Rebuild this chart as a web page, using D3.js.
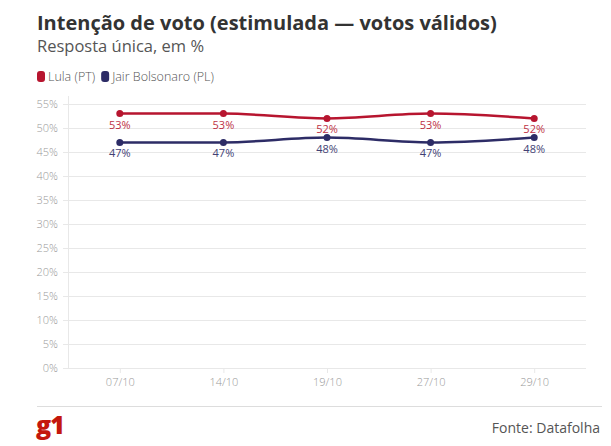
<!DOCTYPE html>
<html><head><meta charset="utf-8">
<script src="https://cdn.jsdelivr.net/npm/d3@7"></script>
<style>
body{margin:0;background:#fff;font-family:"Open Sans",sans-serif;}
</style></head>
<body><svg id="c" width="611" height="446"></svg>
<script>
const dates = ["07/10","14/10","19/10","27/10","29/10"];
const lula = [53,53,52,53,52];
const bolsonaro = [47,47,48,47,48];
const yTicks = [0,5,10,15,20,25,30,35,40,45,50,55];
const seriesNames = ["Lula (PT)","Jair Bolsonaro (PL)"];
const seriesColors = ["#b7152f","#2d2c66"];

const svg = d3.select("#c");
const x = d3.scalePoint().domain(dates).range([68,586]).padding(0.5);
const y = d3.scaleLinear().domain([0,55]).range([368,104]);

svg.append("text").attr("x",37).attr("y",30).attr("font-size",20).attr("font-weight",700)
  .attr("fill","#333").text("Intenção de voto (estimulada — votos válidos)");
svg.append("text").attr("x",37).attr("y",52).attr("font-size",16.5).attr("fill","#555")
  .text("Resposta única, em %");

// legend
let lx = 37;
seriesNames.forEach((n,i)=>{
  svg.append("rect").attr("x",lx).attr("y",71).attr("width",8).attr("height",11).attr("rx",3)
    .attr("fill",seriesColors[i]);
  const t = svg.append("text").attr("x",lx+11).attr("y",81).attr("font-size",12.5)
    .attr("font-weight",300).attr("fill","#555").text(n);
  lx += 11 + t.node().getComputedTextLength() + 6;
});

// grid
const yAxis = d3.axisLeft(y).tickValues(yTicks).tickFormat(d=>d+"%").tickSize(0).tickPadding(10);
const gy = svg.append("g").attr("transform","translate(68,0)").call(yAxis);
gy.select(".domain").remove();
gy.selectAll("text").attr("font-size",11).attr("fill","#999").attr("font-family","Open Sans").attr("font-weight",300);
svg.append("g").selectAll("line").data(yTicks).join("line")
  .attr("x1",63).attr("x2",586).attr("y1",d=>y(d)).attr("y2",d=>y(d))
  .attr("stroke","#e8e8e8").attr("stroke-width",1).attr("shape-rendering","crispEdges");
svg.append("line").attr("x1",68).attr("x2",68).attr("y1",96).attr("y2",368)
  .attr("stroke","#e8e8e8").attr("shape-rendering","crispEdges");

const xAxis = d3.axisBottom(x).tickSize(5).tickPadding(5);
const gx = svg.append("g").attr("transform","translate(0,368)").call(xAxis);
gx.select(".domain").remove();
gx.selectAll("line").attr("stroke","#e8e8e8");
gx.selectAll("text").attr("font-size",11).attr("fill","#999").attr("font-family","Open Sans").attr("font-weight",300);

// lines
const line = d3.line().x((d,i)=>x(dates[i])).y(d=>y(d)).curve(d3.curveMonotoneX);
[lula,bolsonaro].forEach((s,k)=>{
  svg.append("path").attr("d",line(s)).attr("fill","none").attr("stroke",seriesColors[k]).attr("stroke-width",2.5);
  svg.append("g").selectAll("circle").data(s).join("circle")
    .attr("cx",(d,i)=>x(dates[i])).attr("cy",d=>y(d)).attr("r",3.5).attr("fill",seriesColors[k]);
  svg.append("g").selectAll("text").data(s).join("text")
    .attr("x",(d,i)=>x(dates[i])).attr("y",d=>y(d)+15).attr("text-anchor","middle")
    .attr("font-size",11).attr("fill",seriesColors[k]).attr("opacity",0.9).text(d=>d+"%");
});

// footer
svg.append("line").attr("x1",37).attr("x2",602).attr("y1",406).attr("y2",406)
  .attr("stroke","#ddd").attr("shape-rendering","crispEdges");
svg.append("text").attr("x",36).attr("y",434).attr("font-size",25).attr("font-weight",800)
  .attr("fill","#c4170c").attr("letter-spacing",-1).text("g1");
svg.append("text").attr("x",600).attr("y",433).attr("text-anchor","end").attr("font-size",14)
  .attr("fill","#555").text("Fonte: Datafolha");
</script></body></html>
